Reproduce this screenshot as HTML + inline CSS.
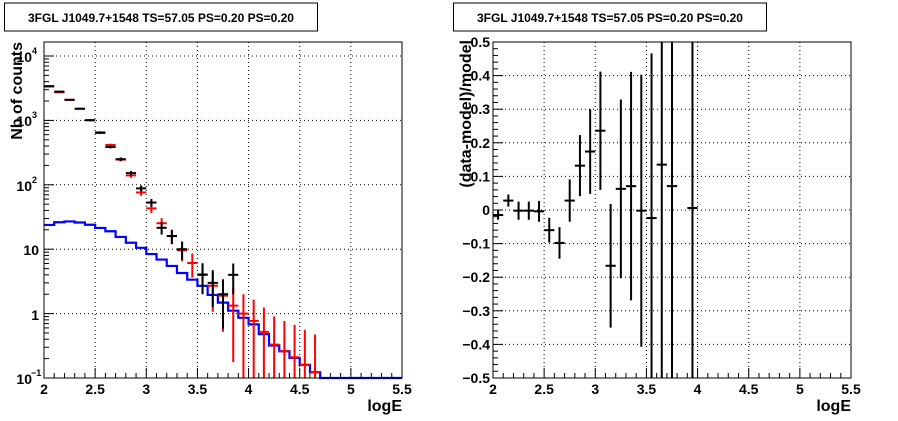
<!DOCTYPE html>
<html><head><meta charset="utf-8"><style>
body{margin:0;background:#fff;}
svg{display:block;font-family:"Liberation Sans",Arial,sans-serif;font-weight:bold;}
</style></head><body>
<svg id="c" width="898" height="421" viewBox="0 0 898 421">
<rect width="898" height="421" fill="#fff"/>
</svg>
<script>
const binCenters=[2.05,2.15,2.25,2.35,2.45,2.55,2.65,2.75,2.85,2.95,3.05,3.15,3.25,3.35,3.45,3.55,3.65,3.75,3.85,3.95,4.05,4.15,4.25,4.35,4.45,4.55,4.65];
const modelCounts=[3420,2730,2090,1520,1010,654,415,246,140,76,43,25.3,16,9.6,6.1,4.07,2.71,1.9,1.33,1.0,0.77,0.52,0.33,0.26,0.21,0.16,0.123];
const dataCenters=[2.05,2.15,2.25,2.35,2.45,2.55,2.65,2.75,2.85,2.95,3.05,3.15,3.25,3.35,3.55,3.65,3.75,3.85];
const dataCounts=[3370,2800,2085,1515,1005,640,387,250,152,88,53,21.5,16,10,4,3,2,4];
const bkgEdges=[2.0,2.1,2.2,2.3,2.4,2.5,2.6,2.7,2.8,2.9,3.0,3.1,3.2,3.3,3.4,3.5,3.6,3.7,3.8,3.9,4.0,4.1,4.2,4.3,4.4,4.5,4.6,4.7,5.5];
const bkgCounts=[23.8,26.2,27,26,24,21.4,19,15.5,12.6,10.5,8.4,6.9,5.5,4.27,3.36,2.7,1.95,1.48,1.11,0.86,0.68,0.48,0.32,0.26,0.205,0.16,0.123,0.1];
const resCenters=[2.05,2.15,2.25,2.35,2.45,2.55,2.65,2.75,2.85,2.95,3.05,3.15,3.25,3.35,3.45,3.55,3.65,3.75,3.95];
const resValues=[-0.015,0.028,-0.002,-0.002,-0.004,-0.06,-0.098,0.028,0.132,0.174,0.236,-0.166,0.063,0.071,-0.002,-0.024,0.135,0.071,0.006];
const resErrors=[0.014,0.018,0.027,0.027,0.031,0.037,0.047,0.063,0.091,0.126,0.176,0.184,0.266,0.34,0.405,0.49,0.8,0.8,1.0];
const xTicks=["2","2.5","3","3.5","4","4.5","5","5.5"];
const resTicks=["−0.5","−0.4","−0.3","−0.2","−0.1","0","0.1","0.2","0.3","0.4","0.5"];

const svg=document.getElementById('c');
const NS='http://www.w3.org/2000/svg';
function el(t,a,p){const e=document.createElementNS(NS,t);for(const k in a)e.setAttribute(k,a[k]);(p||svg).appendChild(e);return e;}
const T=0.1,B=378;
// left
const L={x0:44,x1:402,y0:42,y1:378};
const R={x0:493,x1:851,y0:42,y1:378};
function xs(P,v){return P.x0+(v-2)/3.5*(P.x1-P.x0);}
function ly(v){const l=Math.log10(Math.max(v,1e-3));const y=56+(4-l)*64.4;return Math.min(Math.max(y,L.y0),L.y1);}
function ry(v){const y=R.y0+(0.5-v)*(R.y1-R.y0);return Math.min(Math.max(y,R.y0),R.y1);}

function titleBox(x,w,name){
 const g=el('g',{});
 el('rect',{x:x,y:3,width:w,height:28,fill:'#fff',stroke:'#000','stroke-width':1},g);
 const t=el('text',{x:x+w/2,y:22,'text-anchor':'middle','font-size':12},g);t.textContent='3FGL J1049.7+1548 TS=57.05 PS=0.20 PS=0.20';
}
titleBox(4.5,313,'left-title');titleBox(453.5,313,'right-title');

function frame(P,name){
 const g=el('g',{});
 // x grid + ticks
 for(let i=0;i<=35;i++){const v=2+i*0.1;const x=xs(P,v);const major=i%5==0;
  el('line',{x1:x,x2:x,y1:P.y1,y2:P.y1-(major?10:5),stroke:'#000','stroke-width':1},g);
  if(major&&i>0&&i<35)el('line',{x1:x,x2:x,y1:P.y0,y2:P.y1,stroke:'#000','stroke-width':1,'stroke-dasharray':'1,3'},g);
 }
 xTicks.forEach((s,i)=>{const t=el('text',{x:xs(P,2+i*0.5),y:394,'text-anchor':'middle','font-size':14},g);t.textContent=s;
  });
 const t=el('text',{x:P.x1,y:411,'text-anchor':'end','font-size':16},g);t.textContent='logE';
 
 return g;
}
const gl=frame(L,'left-axes');
for(let d=-1;d<=4;d++){for(let m=1;m<=9;m++){const v=m*Math.pow(10,d);const y=56+(4-Math.log10(v))*64.4;if(y<L.y0||y>L.y1)continue;
 el('line',{x1:L.x0,x2:L.x0+(m==1?10:5),y1:y,y2:y,stroke:'#000'},gl);
 if(m==1&&d>-1)el('line',{x1:L.x0,x2:L.x1,y1:y,y2:y,stroke:'#000','stroke-dasharray':'1,3'},gl);}}
const lyl=[["10",378,"−1"],["1",314,""],["10",249,""],["10",185,"2"],["10",120,"3"],["10",56,"4"]];
lyl.forEach(a=>{const t=el('text',{x:a[2]?32:39,y:a[1]+6,'text-anchor':'end','font-size':14},gl);t.textContent=a[0];
 
 if(a[2]){const s=el('text',{x:a[2].length>1?31:32,y:a[1]-2,'font-size':9},gl);s.textContent=a[2];}});
const yt=el('text',{transform:'translate(22,42) rotate(-90)','text-anchor':'end','font-size':16},gl);yt.textContent='Nb of counts';


const gr=frame(R,'right-axes');
for(let i=0;i<=50;i++){const v=-0.5+i*0.02;const y=ry(v);const major=i%5==0;
 el('line',{x1:R.x0,x2:R.x0+(major?10:5),y1:y,y2:y,stroke:'#000'},gr);
 if(major&&i>0&&i<50)el('line',{x1:R.x0,x2:R.x1,y1:y,y2:y,stroke:'#000','stroke-dasharray':'1,3'},gr);}
resTicks.forEach((s,i)=>{const t=el('text',{x:R.x0-3,y:ry(-0.5+i*0.1)+5,'text-anchor':'end','font-size':14},gr);t.textContent=s;
 });
const ryt=el('text',{transform:'translate(471,40) rotate(-90)','text-anchor':'end','font-size':16},gr);ryt.textContent='(data-model)/model';


// blue histogram
let d='';bkgCounts.forEach((v,i)=>{const x0=xs(L,bkgEdges[i]),x1=xs(L,bkgEdges[i+1]),y=ly(v);d+=(i==0?'M':'L')+x0+','+y+'L'+x1+','+y;});
const bp=el('path',{d:d,fill:'none',stroke:'#0000ff','stroke-width':2.2});

// red model crosses
binCenters.forEach((c,i)=>{const v=modelCounts[i],e=Math.sqrt(v);const x=xs(L,c),h=0.05/3.5*358;
 const g=el('g',{stroke:'#ff0000','stroke-width':2});
 el('line',{x1:x-h,x2:x+h,y1:ly(v),y2:ly(v)},g);el('line',{x1:x,x2:x,y1:ly(v+e),y2:ly(v-e)},g);});
// black data crosses
dataCenters.forEach((c,i)=>{const v=dataCounts[i],e=Math.sqrt(v);const x=xs(L,c),h=0.05/3.5*358;
 const g=el('g',{stroke:'#000','stroke-width':2});
 el('line',{x1:x-h,x2:x+h,y1:ly(v),y2:ly(v)},g);el('line',{x1:x,x2:x,y1:ly(v+e),y2:ly(v-e)},g);});
// redraw red over black for the first bins to mimic overlay
// residuals
resCenters.forEach((c,i)=>{const v=resValues[i],e=resErrors[i];const x=xs(R,c),h=0.05/3.5*358;
 const g=el('g',{stroke:'#000','stroke-width':2});
 if(v>=-0.5&&v<=0.5)el('line',{x1:x-h,x2:x+h,y1:ry(v),y2:ry(v)},g);el('line',{x1:x,x2:x,y1:ry(v+e),y2:ry(v-e)},g);});
// frames on top
[L,R].forEach((P,i)=>{const f=el('rect',{x:P.x0,y:P.y0,width:P.x1-P.x0,height:P.y1-P.y0,fill:'none',stroke:'#000','stroke-width':1});
 });
</script>
</body></html>
